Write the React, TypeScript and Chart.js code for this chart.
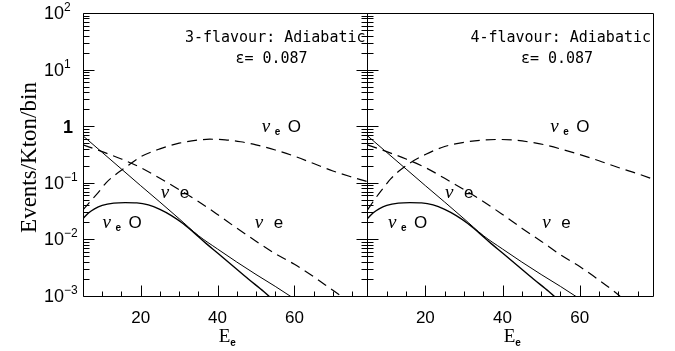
import React, { useEffect, useRef } from "react";
import { Chart, registerables } from "chart.js";

Chart.register(...registerables);

// ---------- data ----------
const X_MIN = 5;
const X_MAX = 79;
const Y_MIN = 1e-3;
const Y_MAX = 100;

const xMajorTicks = [20, 40, 60];
const xMinorTicks = [10, 15, 25, 30, 35, 45, 50, 55, 65, 70, 75];
const yDecadeExponents = [-3, -2, -1, 0, 1, 2];
const yTickLabels = ["10|−3", "10|−2", "10|−1", "1|", "10|1", "10|2"];

// 3-flavour panel
const eNuESolid3 = [5, 10, 15, 20, 25, 30, 35, 40, 45, 50, 55, 60];
const nuESolid3 = [0.676, 0.344, 0.175, 0.089, 0.0457, 0.0232, 0.0117, 0.00676, 0.00398, 0.0024, 0.00148, 0.00089];
const eNuEOSolid3 = [5, 6.5, 8, 10, 13, 16, 19, 22, 25, 28, 31, 34, 37, 40, 44, 48, 52, 55];
const nuEOSolid3 = [0.0234, 0.0295, 0.0347, 0.0398, 0.0437, 0.0447, 0.0442, 0.0407, 0.0339, 0.0263, 0.0191, 0.0129, 0.0085, 0.00575, 0.0034, 0.002, 0.0012, 0.00079];
const eNuEDashed3 = [5, 10, 15, 20, 25, 30, 35, 40, 45, 50, 55, 60, 65, 70, 73];
const nuEDashed3 = [0.468, 0.355, 0.263, 0.186, 0.12, 0.0759, 0.0468, 0.0275, 0.0158, 0.0093, 0.0056, 0.00363, 0.00219, 0.00126, 0.00091];
const eNuEODashed3 = [5, 7, 9, 11, 13, 16, 20, 25, 30, 35, 38, 42, 46, 50, 55, 60, 65, 70, 75, 80];
const nuEODashed3 = [0.0331, 0.0479, 0.0676, 0.1, 0.132, 0.186, 0.288, 0.398, 0.501, 0.569, 0.589, 0.575, 0.531, 0.468, 0.38, 0.295, 0.219, 0.162, 0.126, 0.1];

// 4-flavour panel
const eNuESolid4 = [5, 10, 15, 20, 25, 30, 35, 40, 45, 50, 55, 60];
const nuESolid4 = [0.676, 0.344, 0.175, 0.089, 0.0457, 0.0232, 0.0117, 0.00676, 0.00398, 0.0024, 0.00148, 0.00089];
const eNuEOSolid4 = [5, 6.5, 8, 10, 13, 16, 19, 22, 25, 28, 31, 34, 37, 40, 44, 48, 52, 55];
const nuEOSolid4 = [0.0234, 0.0295, 0.0347, 0.0398, 0.0437, 0.0447, 0.0442, 0.0407, 0.0339, 0.0263, 0.0191, 0.0129, 0.0085, 0.00575, 0.0034, 0.002, 0.0012, 0.00079];
const eNuEDashed4 = [5, 10, 15, 20, 25, 30, 35, 40, 45, 50, 55, 60, 65, 70, 72];
const nuEDashed4 = [0.468, 0.355, 0.263, 0.186, 0.12, 0.0759, 0.0468, 0.0275, 0.0158, 0.0093, 0.00537, 0.00331, 0.00191, 0.00105, 0.00079];
const eNuEODashed4 = [5, 7, 9, 11, 13, 16, 20, 25, 30, 35, 39, 43, 47, 51, 56, 60, 65, 70, 75, 80];
const nuEODashed4 = [0.0331, 0.0525, 0.0794, 0.117, 0.158, 0.224, 0.316, 0.437, 0.519, 0.569, 0.582, 0.569, 0.525, 0.468, 0.38, 0.316, 0.245, 0.186, 0.145, 0.11];

// curve labels: [kind, energy, events]
const curveLabels3: [string, number, number][] = [
  ["nuEO", 51.5, 0.79],
  ["nuE", 25.2, 0.0538],
  ["nuE", 49.7, 0.0158],
  ["nuEO", 10.1, 0.0158],
];
const curveLabels4: [string, number, number][] = [
  ["nuEO", 52.4, 0.79],
  ["nuE", 25.1, 0.0538],
  ["nuE", 50.3, 0.0158],
  ["nuEO", 10.3, 0.0158],
];

const title3 = "3-flavour: Adiabatic";
const title4 = "4-flavour: Adiabatic";
const epsText = "ε= 0.087";
const yTitle = "Events/Kton/bin";

// ---------- helpers ----------
const W = 675;
const H = 351;

function pts(xs: number[], ys: number[]) {
  return xs.map((x, i) => ({ x, y: ys[i] }));
}

function makeDatasets(s: { es: number[]; s: number[]; eo: number[]; o: number[]; ed: number[]; d: number[]; eod: number[]; od: number[] }) {
  const base = { borderColor: "#000", pointRadius: 0, fill: false, cubicInterpolationMode: "monotone" as const };
  return [
    { ...base, data: pts(s.es, s.s), borderWidth: 1 },
    { ...base, data: pts(s.eo, s.o), borderWidth: 1.4 },
    { ...base, data: pts(s.ed, s.d), borderWidth: 1.2, borderDash: [10, 6] },
    { ...base, data: pts(s.eod, s.od), borderWidth: 1.2, borderDash: [10, 6] },
  ];
}

function framePlugin(opts: { side: "left" | "right"; title: string; labels: [string, number, number][] }) {
  return {
    id: "frame_" + opts.side,
    afterDatasetsDraw(chart: any) {
      const { ctx, chartArea: a, scales } = chart;
      const xs = scales.x;
      const ys = scales.y;
      ctx.save();
      ctx.strokeStyle = "#000";
      ctx.fillStyle = "#000";
      ctx.lineWidth = 1;
      const L = Math.round(a.left - 0.5) + 0.5;
      const R = Math.round(a.right - 0.5) + 0.5;
      const T = Math.round(a.top - 0.5) + 0.5;
      const B = Math.round(a.bottom - 0.5) + 0.5;
      ctx.beginPath();
      ctx.rect(L, T, R - L, B - T);
      ctx.stroke();

      // x ticks (inward)
      ctx.beginPath();
      for (const v of xMinorTicks) {
        const px = Math.round(xs.getPixelForValue(v)) + 0.5;
        ctx.moveTo(px, B);
        ctx.lineTo(px, B - 5);
      }
      for (const v of xMajorTicks) {
        const px = Math.round(xs.getPixelForValue(v)) + 0.5;
        ctx.moveTo(px, B);
        ctx.lineTo(px, B - 11);
      }
      // y ticks (inward)
      const edges = opts.side === "left" ? [[L, 1], [R, -1]] : [[L, 1]];
      for (const d of yDecadeExponents) {
        for (let m = 1; m <= 9; m++) {
          const v = m * Math.pow(10, d);
          if (v > Y_MAX * 1.0001) break;
          const py = Math.round(ys.getPixelForValue(v)) + 0.5;
          const len = m === 1 ? 11 : 6;
          for (const [ex, dir] of edges) {
            ctx.moveTo(ex, py);
            ctx.lineTo(ex + dir * len, py);
          }
        }
      }
      ctx.stroke();

      // x tick labels
      ctx.font = "17px 'Liberation Sans', Arial, sans-serif";
      ctx.textAlign = "center";
      ctx.textBaseline = "alphabetic";
      for (const v of xMajorTicks) {
        ctx.fillText(String(v), xs.getPixelForValue(v), a.bottom + 27);
      }

      // x title E_e
      const cx = (a.left + a.right) / 2;
      ctx.font = "19px 'Liberation Serif', 'Times New Roman', serif";
      ctx.textAlign = "right";
      ctx.fillText("E", cx + 5, a.bottom + 46);
      ctx.font = "bold 10px 'Liberation Sans', Arial, sans-serif";
      ctx.textAlign = "left";
      ctx.fillText("e", cx + 5, a.bottom + 50);

      if (opts.side === "left") {
        // y tick labels
        yDecadeExponents.forEach((d, i) => {
          const [base, exp] = yTickLabels[i].split("|");
          const py = ys.getPixelForValue(Math.pow(10, d));
          if (exp === "") {
            ctx.font = "bold 18px 'Liberation Sans', Arial, sans-serif";
            ctx.textAlign = "center";
            ctx.fillText(base, a.left - 15, py + 7);
          } else {
            ctx.font = "18px 'Liberation Sans', Arial, sans-serif";
            ctx.textAlign = "right";
            ctx.fillText(base, a.left - 19, py + 6);
            ctx.font = "12px 'Liberation Sans', Arial, sans-serif";
            ctx.textAlign = "left";
            ctx.fillText(exp, a.left - 19, py - 2);
          }
        });
        // y title
        ctx.save();
        ctx.translate(36, (a.top + a.bottom) / 2 + 3);
        ctx.rotate(-Math.PI / 2);
        ctx.font = "23px 'Liberation Serif', 'Times New Roman', serif";
        ctx.textAlign = "center";
        ctx.fillText(yTitle, 0, 0);
        ctx.restore();
      }

      // panel title
      ctx.font = "15px 'DejaVu Sans Mono', monospace";
      ctx.textAlign = "right";
      ctx.fillText(opts.title, a.right - 2, a.top + 29);
      ctx.textAlign = "center";
      ctx.fillText(epsText, a.right - 96, a.top + 50);

      // curve labels
      for (const [kind, ex, ey] of opts.labels) {
        const px = xs.getPixelForValue(ex);
        const py = ys.getPixelForValue(ey);
        ctx.textAlign = "left";
        ctx.font = "italic 19px 'Liberation Serif', 'Times New Roman', serif";
        ctx.fillText("ν", px, py);
        if (kind === "nuE") {
          ctx.font = "17px 'Liberation Sans', Arial, sans-serif";
          ctx.fillText("e", px + 19, py);
        } else {
          ctx.font = "bold 10px 'Liberation Sans', Arial, sans-serif";
          ctx.fillText("e", px + 13, py + 3);
          ctx.font = "17px 'Liberation Sans', Arial, sans-serif";
          ctx.fillText("O", px + 26, py);
        }
      }
      ctx.restore();
    },
  };
}

function baseOptions(padLeft: number, padRight: number) {
  return {
    animation: false as const,
    responsive: false,
    maintainAspectRatio: false,
    devicePixelRatio: 1,
    events: [] as any[],
    layout: { padding: { left: padLeft, right: padRight, top: 13, bottom: H - 296 } },
    plugins: { legend: { display: false }, tooltip: { enabled: false }, title: { display: false } },
    scales: {
      x: { type: "linear" as const, min: X_MIN, max: X_MAX, display: false },
      y: { type: "logarithmic" as const, min: Y_MIN, max: Y_MAX, display: false },
    },
  };
}

export default function App() {
  const leftRef = useRef<HTMLCanvasElement | null>(null);
  const rightRef = useRef<HTMLCanvasElement | null>(null);

  useEffect(() => {
    if (!leftRef.current || !rightRef.current) return;
    const left = new Chart(leftRef.current, {
      type: "line",
      data: {
        datasets: makeDatasets({
          es: eNuESolid3, s: nuESolid3, eo: eNuEOSolid3, o: nuEOSolid3,
          ed: eNuEDashed3, d: nuEDashed3, eod: eNuEODashed3, od: nuEODashed3,
        }) as any,
      },
      options: baseOptions(83, W - 367.5) as any,
      plugins: [framePlugin({ side: "left", title: title3, labels: curveLabels3 })],
    });
    const right = new Chart(rightRef.current, {
      type: "line",
      data: {
        datasets: makeDatasets({
          es: eNuESolid4, s: nuESolid4, eo: eNuEOSolid4, o: nuEOSolid4,
          ed: eNuEDashed4, d: nuEDashed4, eod: eNuEODashed4, od: nuEODashed4,
        }) as any,
      },
      options: baseOptions(367.5, W - 653) as any,
      plugins: [framePlugin({ side: "right", title: title4, labels: curveLabels4 })],
    });
    return () => {
      left.destroy();
      right.destroy();
    };
  }, []);

  const canvasStyle: React.CSSProperties = { position: "absolute", left: 0, top: 0, width: W, height: H };
  return (
    <div style={{ position: "fixed", left: 0, top: 0, width: W, height: H, background: "#fff" }}>
      <canvas ref={leftRef} width={W} height={H} style={canvasStyle} />
      <canvas ref={rightRef} width={W} height={H} style={canvasStyle} />
    </div>
  );
}
